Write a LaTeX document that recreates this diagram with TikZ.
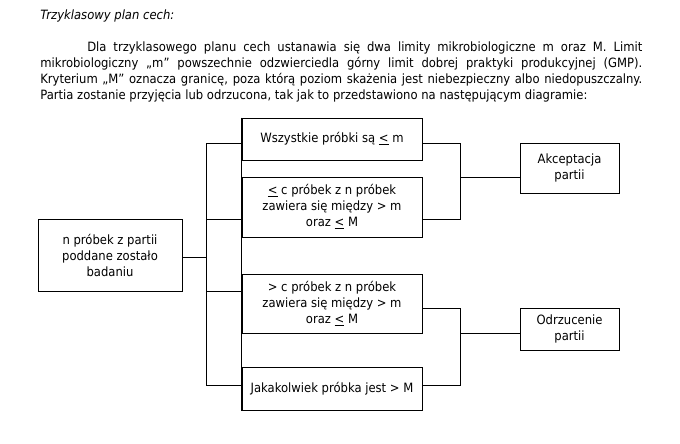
\documentclass[tikz,border=0pt]{standalone}
\usepackage{fontspec}
\setmainfont{DejaVu Sans}[FakeStretch=0.906]
\newcommand{\fs}{\fontsize{9.6}{12}\selectfont}
\begin{document}
\begin{tikzpicture}[x=0.75pt,y=-0.75pt,
  box/.style={draw, line width=0.75pt, inner sep=0pt, align=center, font=\fs},
  ln/.style={line width=0.75pt},
  txt/.style={anchor=base west, inner sep=0pt, font=\fs}]
\useasboundingbox (0,0) rectangle (680,443);
% text
\node[txt] (title) at (40,19) {\itshape Trzyklasowy plan cech:};
\node[txt] (p1) at (87,51) {\makebox[416.25pt][s]{Dla trzyklasowego planu cech ustanawia się dwa limity mikrobiologiczne m oraz M. Limit}};
\node[txt] (p2) at (40,67) {\makebox[451.5pt][s]{mikrobiologiczny „m” powszechnie odzwierciedla górny limit dobrej praktyki produkcyjnej (GMP).}};
\node[txt] (p3) at (40,83) {\makebox[451.5pt][s]{Kryterium „M” oznacza granicę, poza którą poziom skażenia jest niebezpieczny albo niedopuszczalny.}};
\node[txt] (p4) at (40,99) {Partia zostanie przyjęcia lub odrzucona, tak jak to przedstawiono na następującym diagramie:};
% boxes
\node[box, minimum width=108pt, minimum height=54pt] (left) at (110,255) {n próbek z partii\\poddane zostało\\badaniu};
\node[box, minimum width=135pt, minimum height=31.5pt] (b1) at (332,139) {Wszystkie próbki są \underline{<} m};
\node[box, minimum width=135pt, minimum height=45pt] (b2) at (332,207) {\underline{<} c próbek z n próbek\\zawiera się między > m\\oraz \underline{<} M};
\node[box, minimum width=135pt, minimum height=44.25pt] (b3) at (332,303.5) {> c próbek z n próbek\\zawiera się między > m\\oraz \underline{<} M};
\node[box, minimum width=135pt, minimum height=32.25pt] (b4) at (332,388.5) {Jakakolwiek próbka jest > M};
\node[box, minimum width=74.25pt, minimum height=37.5pt] (akc) at (569.5,168) {Akceptacja\\partii};
\node[box, minimum width=74.25pt, minimum height=31.5pt] (odr) at (569.5,329) {Odrzucenie\\partii};
% joints
\coordinate (lt) at (206,143);
\coordinate (l2) at (206,219);
\coordinate (lm) at (206,257);
\coordinate (l3) at (206,291);
\coordinate (lb) at (206,385);
\coordinate (rt) at (460,143);
\coordinate (rm) at (460,177);
\coordinate (rb) at (460,219);
\coordinate (rt2) at (460,308);
\coordinate (rm2) at (460,333);
\coordinate (rb2) at (460,385);
% connectors
\draw[ln] (left.east |- lm) -- (lm);
\draw[ln] (b1.west |- lt) -- (lt) -- (lb) -- (b4.west |- lb);
\draw[ln] (l2) -- (b2.west |- l2);
\draw[ln] (l3) -- (b3.west |- l3);
\draw[ln] (b1.north west) -- (b4.south west);
\draw[ln] (b1.east |- rt) -- (rt) -- (rb) -- (b2.east |- rb);
\draw[ln] (rm) -- (akc.west |- rm);
\draw[ln] (b3.east |- rt2) -- (rt2) -- (rb2) -- (b4.east |- rb2);
\draw[ln] (rm2) -- (odr.west |- rm2);
\end{tikzpicture}
\end{document}
